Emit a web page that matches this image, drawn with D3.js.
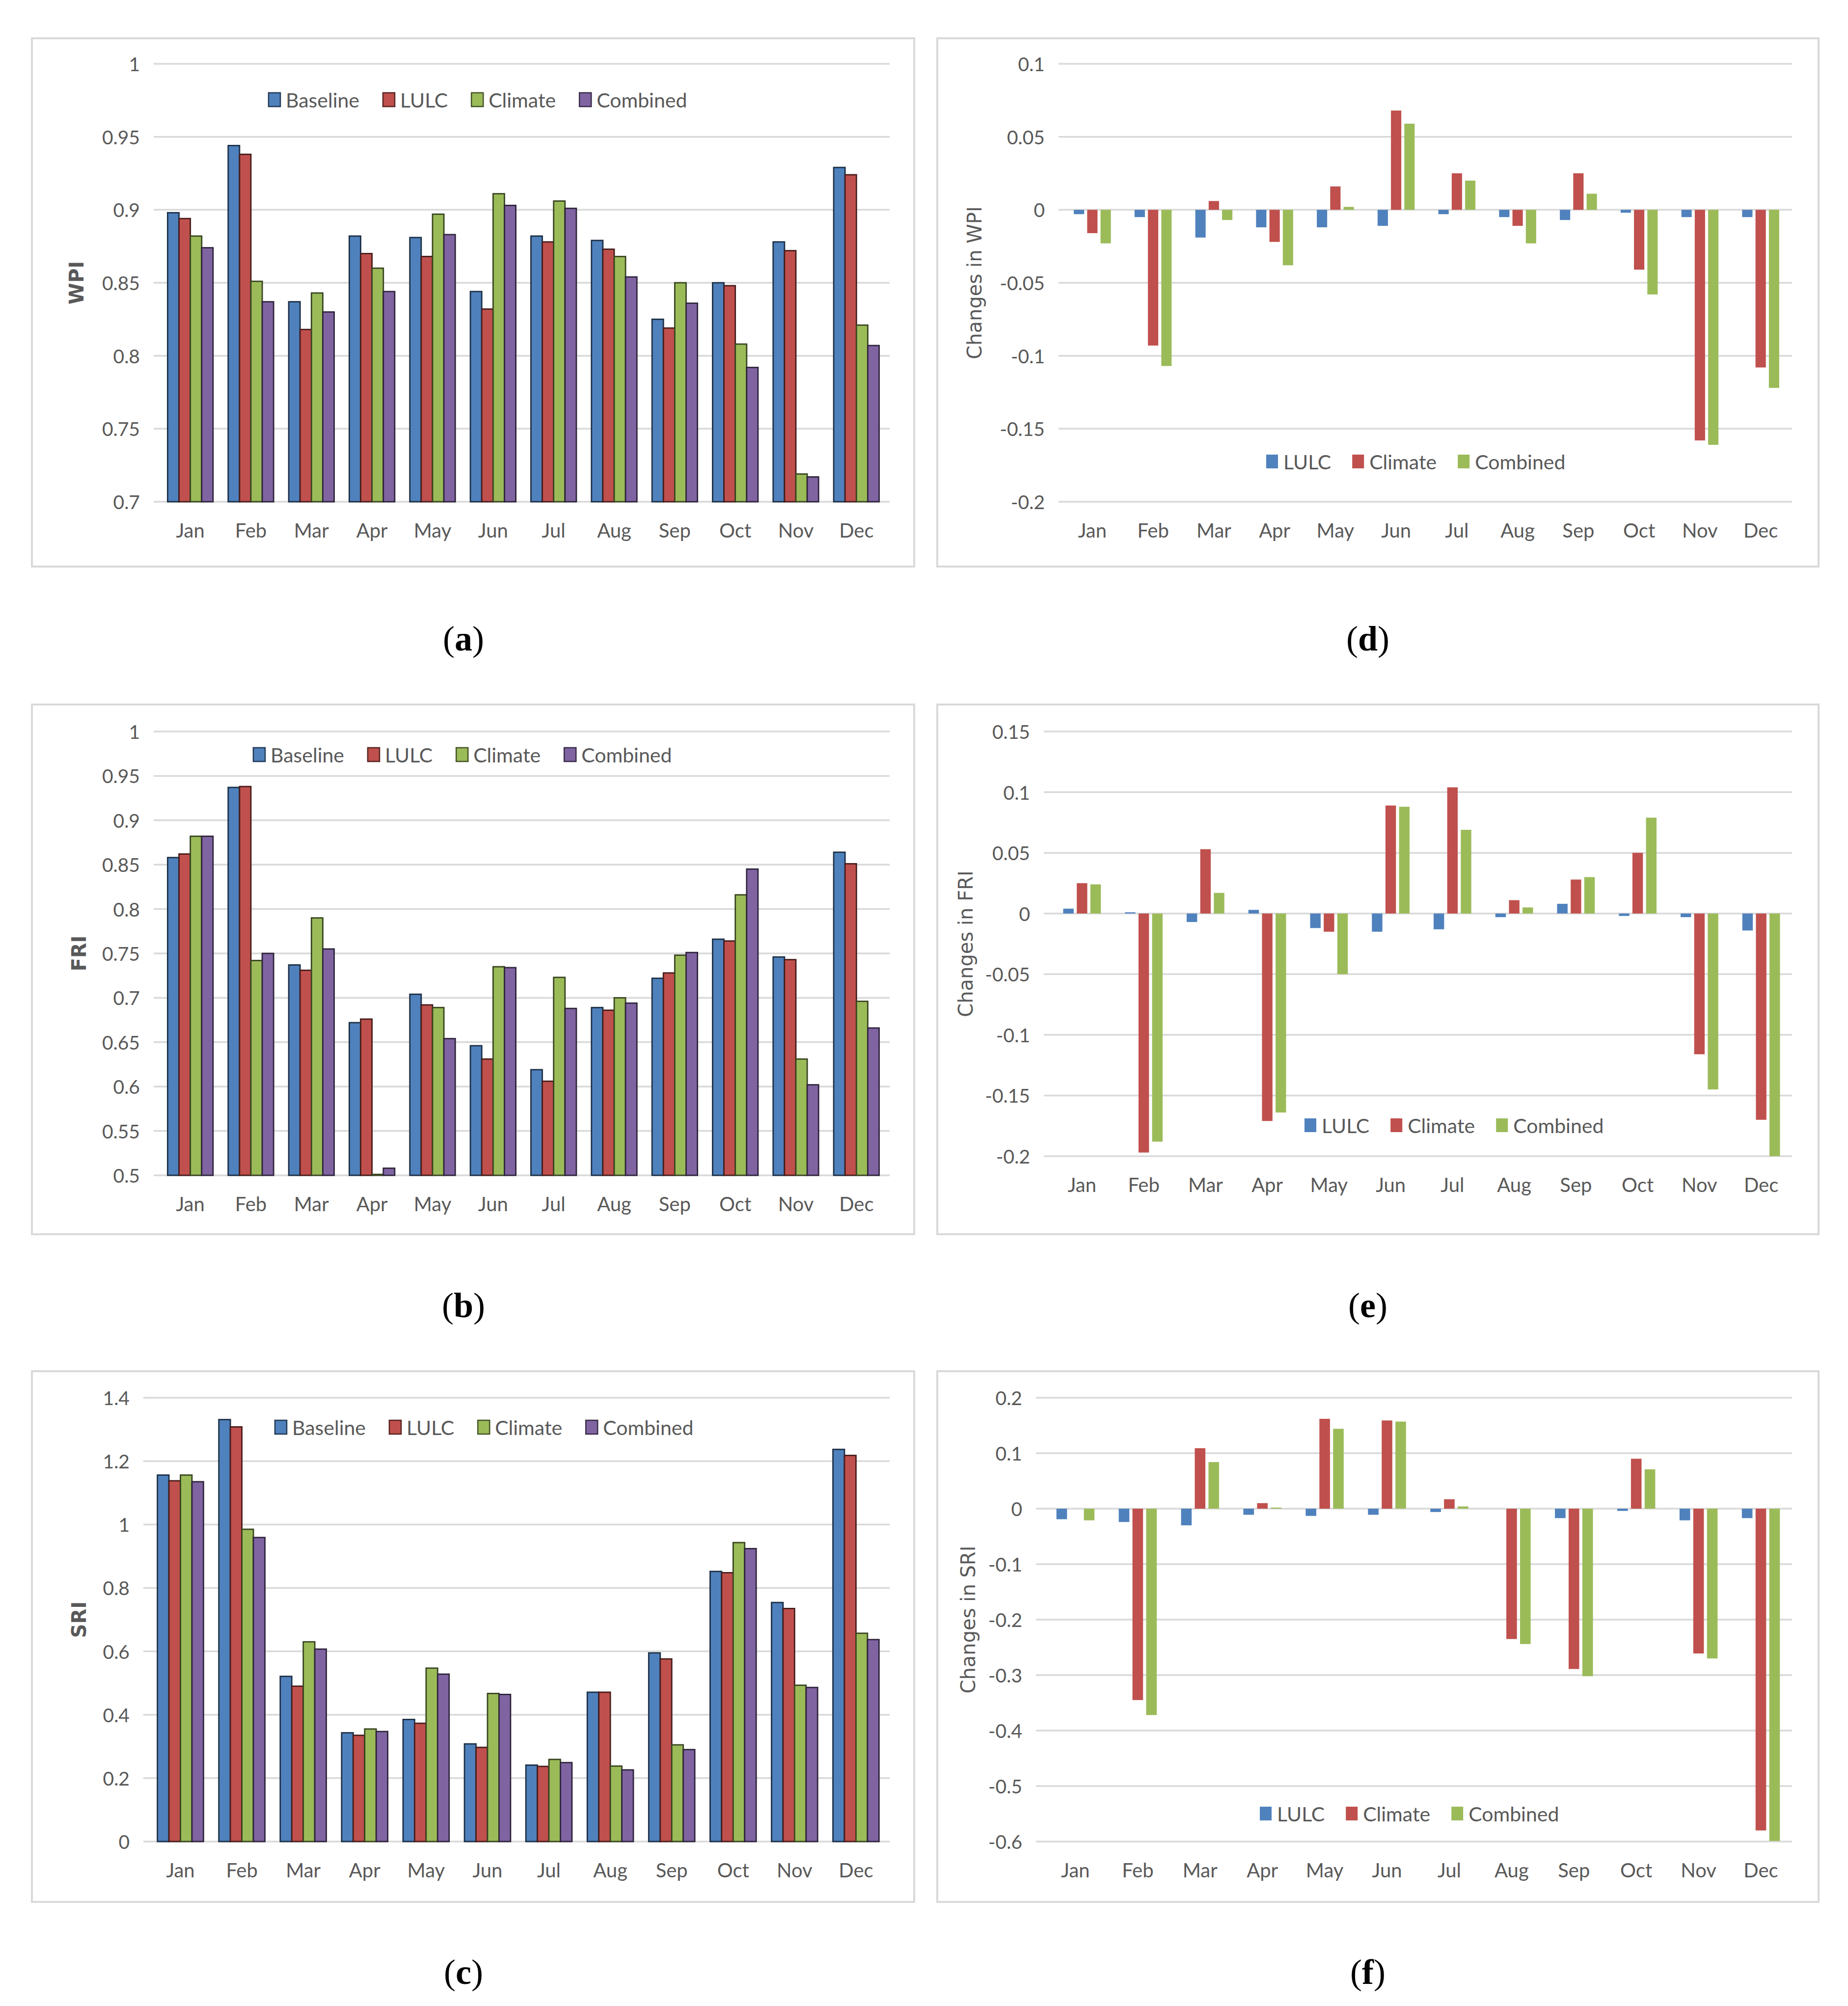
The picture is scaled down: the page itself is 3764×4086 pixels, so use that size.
<!DOCTYPE html>
<html><head><meta charset="utf-8">
<script src="https://cdn.jsdelivr.net/npm/d3@7"></script>
<style>html,body{margin:0;padding:0;background:#fff;}svg{display:block;}</style>
</head><body>
<script>
// ---------------- DATA ----------------
const months = ["Jan","Feb","Mar","Apr","May","Jun","Jul","Aug","Sep","Oct","Nov","Dec"];
const seriesAbs = ["Baseline","LULC","Climate","Combined"];
const seriesChg = ["LULC","Climate","Combined"];

// (a) WPI
const wpiBaseline = [0.898,0.944,0.837,0.882,0.881,0.844,0.882,0.879,0.825,0.850,0.878,0.929];
const wpiLULC     = [0.894,0.938,0.818,0.870,0.868,0.832,0.878,0.873,0.819,0.848,0.872,0.924];
const wpiClimate  = [0.882,0.851,0.843,0.860,0.897,0.911,0.906,0.868,0.850,0.808,0.719,0.821];
const wpiCombined = [0.874,0.837,0.830,0.844,0.883,0.903,0.901,0.854,0.836,0.792,0.717,0.807];
// (d) Changes in WPI
const dwpiLULC     = [-0.003,-0.005,-0.019,-0.012,-0.012,-0.011,-0.003,-0.005,-0.007,-0.002,-0.005,-0.005];
const dwpiClimate  = [-0.016,-0.093,0.006,-0.022,0.016,0.068,0.025,-0.011,0.025,-0.041,-0.158,-0.108];
const dwpiCombined = [-0.023,-0.107,-0.007,-0.038,0.002,0.059,0.020,-0.023,0.011,-0.058,-0.161,-0.122];
// (b) FRI
const friBaseline = [0.858,0.937,0.737,0.672,0.704,0.646,0.619,0.689,0.722,0.766,0.746,0.864];
const friLULC     = [0.862,0.938,0.731,0.676,0.692,0.631,0.606,0.686,0.728,0.764,0.743,0.851];
const friClimate  = [0.882,0.742,0.790,0.501,0.689,0.735,0.723,0.700,0.748,0.816,0.631,0.696];
const friCombined = [0.882,0.750,0.755,0.508,0.654,0.734,0.688,0.694,0.751,0.845,0.602,0.666];
// (e) Changes in FRI
const dfriLULC     = [0.004,0.001,-0.007,0.003,-0.012,-0.015,-0.013,-0.003,0.008,-0.002,-0.003,-0.014];
const dfriClimate  = [0.025,-0.197,0.053,-0.171,-0.015,0.089,0.104,0.011,0.028,0.050,-0.116,-0.170];
const dfriCombined = [0.024,-0.188,0.017,-0.164,-0.050,0.088,0.069,0.005,0.030,0.079,-0.145,-0.200];
// (c) SRI
const sriBaseline = [1.156,1.331,0.521,0.343,0.385,0.308,0.241,0.471,0.595,0.852,0.754,1.237];
const sriLULC     = [1.138,1.308,0.490,0.335,0.373,0.297,0.237,0.471,0.576,0.848,0.735,1.218];
const sriClimate  = [1.156,0.985,0.630,0.355,0.547,0.467,0.259,0.238,0.305,0.943,0.493,0.657];
const sriCombined = [1.135,0.959,0.607,0.347,0.528,0.464,0.249,0.226,0.290,0.924,0.486,0.637];
// (f) Changes in SRI
const dsriLULC     = [-0.019,-0.024,-0.030,-0.011,-0.013,-0.011,-0.006,0.000,-0.017,-0.004,-0.021,-0.017];
const dsriClimate  = [0.000,-0.345,0.109,0.010,0.162,0.159,0.017,-0.235,-0.289,0.090,-0.261,-0.580];
const dsriCombined = [-0.021,-0.372,0.084,0.002,0.144,0.157,0.004,-0.244,-0.302,0.071,-0.270,-0.599];

// tick values
const ticksWPI  = [0.7,0.75,0.8,0.85,0.9,0.95,1];
const ticksDWPI = [-0.2,-0.15,-0.1,-0.05,0,0.05,0.1];
const ticksFRI  = [0.5,0.55,0.6,0.65,0.7,0.75,0.8,0.85,0.9,0.95,1];
const ticksDFRI = [-0.2,-0.15,-0.1,-0.05,0,0.05,0.1,0.15];
const ticksSRI  = [0,0.2,0.4,0.6,0.8,1,1.2,1.4];
const ticksDSRI = [-0.6,-0.5,-0.4,-0.3,-0.2,-0.1,0,0.1,0.2];

// ---------------- STYLE / LAYOUT ----------------
const colorAbs = {Baseline:"#4F81BD", LULC:"#C0504D", Climate:"#9BBB59", Combined:"#8064A2"};
const colorChg = {LULC:"#4F81BD", Climate:"#C0504D", Combined:"#9BBB59"};
const W = 3764, H = 4086;
const FONT = "Lato, 'Open Sans', sans-serif";
const TXT = "#595959";

const panels = [
  {id:"a", kind:"abs", title:"WPI", series:[wpiBaseline,wpiLULC,wpiClimate,wpiCombined], ticks:ticksWPI,
   box:[65,78,1862,1154], px:[313,1812], bx:[326,1806], py:[130,1022], titleX:156, leg:[547,203], lab:[944,1325]},
  {id:"d", kind:"chg", title:"Changes in WPI", series:[dwpiLULC,dwpiClimate,dwpiCombined], ticks:ticksDWPI,
   box:[1909,78,3704,1154], px:[2156,3650], bx:[2163,3648], py:[130,1022], titleX:1985, leg:[2579,940], lab:[2786,1325]},
  {id:"b", kind:"abs", title:"FRI", series:[friBaseline,friLULC,friClimate,friCombined], ticks:ticksFRI,
   box:[65,1435,1862,2514], px:[313,1812], bx:[326,1806], py:[1490,2394], titleX:161, leg:[516,1537], lab:[944,2683]},
  {id:"e", kind:"chg", title:"Changes in FRI", series:[dfriLULC,dfriClimate,dfriCombined], ticks:ticksDFRI,
   box:[1909,1435,3704,2514], px:[2126,3650], bx:[2141,3650], py:[1490,2355], titleX:1967, leg:[2657,2292], lab:[2786,2683]},
  {id:"c", kind:"abs", title:"SRI", series:[sriBaseline,sriLULC,sriClimate,sriCombined], ticks:ticksSRI,
   box:[65,2793,1862,3874], px:[292,1812], bx:[305,1806], py:[2847,3751], titleX:161, leg:[560,2907], lab:[944,4041]},
  {id:"f", kind:"chg", title:"Changes in SRI", series:[dsriLULC,dsriClimate,dsriCombined], ticks:ticksDSRI,
   box:[1909,2793,3704,3874], px:[2110,3650], bx:[2127,3650], py:[2847,3751], titleX:1972, leg:[2566,3694], lab:[2786,4041]}
];

const svg = d3.select("body").append("svg").attr("width",W).attr("height",H)
  .attr("viewBox",`0 0 ${W} ${H}`).style("background","#fff");

const fmt = v => String(+v.toFixed(2));

panels.forEach(p => {
  const g = svg.append("g").attr("class","panel-"+p.id);
  const names = p.kind==="abs" ? seriesAbs : seriesChg;
  const colors = p.kind==="abs" ? colorAbs : colorChg;
  const [bx0,by0,bx1,by1] = p.box;
  g.append("rect").attr("x",bx0).attr("y",by0).attr("width",bx1-bx0).attr("height",by1-by0)
    .attr("fill","#fff").attr("stroke","#D9D9D9").attr("stroke-width",4);

  const y = d3.scaleLinear().domain([p.ticks[0], p.ticks[p.ticks.length-1]]).range([p.py[1], p.py[0]]);
  const x = d3.scaleBand().domain(months).range(p.bx).paddingInner(0).paddingOuter(0);

  // gridlines
  g.append("g").selectAll("line").data(p.ticks).join("line")
    .attr("x1",p.px[0]).attr("x2",p.px[1]).attr("y1",d=>y(d)).attr("y2",d=>y(d))
    .attr("stroke","#D9D9D9").attr("stroke-width",3.5);

  // y tick labels
  g.append("g").selectAll("text").data(p.ticks).join("text")
    .attr("x",p.px[0]-28).attr("y",d=>y(d)).attr("text-anchor","end").attr("dominant-baseline","central")
    .attr("font-family",FONT).attr("font-size",39).attr("fill",TXT).text(fmt);

  // x labels
  g.append("g").selectAll("text").data(months).join("text")
    .attr("x",d=>x(d)+x.bandwidth()/2).attr("y",p.py[1]+58).attr("text-anchor","middle")
    .attr("dominant-baseline","central").attr("font-family",FONT).attr("font-size",40).attr("fill",TXT).text(d=>d);

  // bars
  const step = x.bandwidth();
  const base = p.kind==="abs" ? p.ticks[0] : 0;
  let bw, gap;
  if (p.kind==="abs") { bw = step*0.75/4; gap = 0; } else { bw = step*0.17; gap = step*0.05; }
  const groupW = names.length*bw + (names.length-1)*gap;
  names.forEach((nm,si) => {
    const vals = p.series[si];
    const bars = g.append("g").selectAll("rect").data(months.map((m,i)=>({m,v:vals[i]}))).join("rect")
      .attr("x",d=>x(d.m)+step/2-groupW/2+si*(bw+gap)).attr("width",bw)
      .attr("y",d=>Math.min(y(d.v),y(base))).attr("height",d=>Math.abs(y(d.v)-y(base)))
      .attr("fill",colors[nm]);
    if (p.kind==="abs") bars.attr("stroke",d3.color(colors[nm]).darker(2.8)).attr("stroke-width",2.8);
  });

  // axis title
  g.append("text").attr("transform",`translate(${p.titleX},${(p.py[0]+p.py[1])/2}) rotate(-90)`)
    .attr("text-anchor","middle").attr("dominant-baseline","central")
    .attr("font-family","'DejaVu Sans', sans-serif").attr("font-size",40)
    .attr("font-weight",p.kind==="abs"?"bold":"normal").attr("fill",TXT).text(p.title);

  // legend
  const lg = g.append("g");
  let cx = p.leg[0];
  const itemGap = p.kind==="abs" ? 48 : 43;
  names.forEach(nm => {
    const r = lg.append("rect").attr("x",cx).attr("y",p.leg[1]-14).attr("width",24).attr("height",28).attr("fill",colors[nm]);
    if (p.kind==="abs") r.attr("stroke",d3.color(colors[nm]).darker(2.2)).attr("stroke-width",2.6);
    const t = lg.append("text").attr("x",cx+35).attr("y",p.leg[1]).attr("dominant-baseline","central")
      .attr("font-family",FONT).attr("font-size",41).attr("fill",TXT).text(nm);
    cx += 35 + t.node().getComputedTextLength() + itemGap;
  });

  // panel label
  const lt = svg.append("text").attr("x",p.lab[0]).attr("y",p.lab[1]).attr("text-anchor","middle")
    .attr("font-family","'Liberation Serif', 'DejaVu Serif', serif").attr("font-size",72).attr("fill","#000");
  lt.append("tspan").text("(");
  lt.append("tspan").attr("font-weight","bold").text(p.id);
  lt.append("tspan").text(")");
});
</script>
</body></html>
